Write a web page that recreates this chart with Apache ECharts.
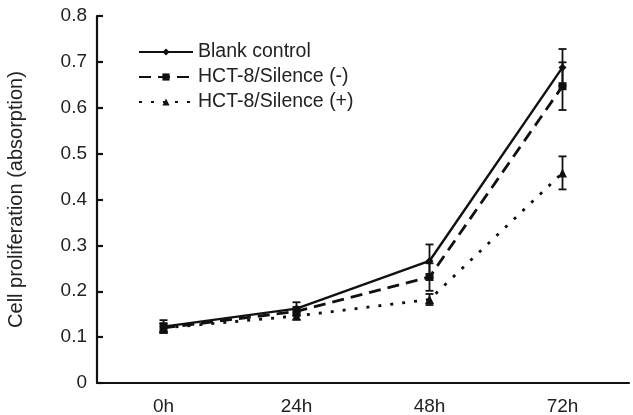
<!DOCTYPE html>
<html><head><meta charset="utf-8">
<script src="https://cdn.jsdelivr.net/npm/echarts@6/dist/echarts.min.js"></script>
<style>html,body{margin:0;padding:0;background:#fff}#c{width:633px;height:415px}</style>
</head><body><div id="c"></div>
<script>
const categories = ['0h', '24h', '48h', '72h'];
const seriesNames = ['Blank control', 'HCT-8/Silence (-)', 'HCT-8/Silence (+)'];
const blankControl = [0.123, 0.162, 0.266, 0.688];
const blankErr = [0.014, 0.014, 0.036, 0.04];
const silenceNeg = [0.12, 0.156, 0.231, 0.647];
const silenceNegErr = [0.01, 0.01, 0.03, 0.052];
const silencePos = [0.12, 0.146, 0.182, 0.458];
const silencePosErr = [0.01, 0.008, 0.012, 0.036];
const yTicks = [0, 0.1, 0.2, 0.3, 0.4, 0.5, 0.6, 0.7, 0.8];

const FONT = 'Liberation Sans, Arial, sans-serif';

function errData(vals, errs) {
  return vals.map((v, i) => [i, v - errs[i], v + errs[i]]);
}
function errSeries(vals, errs) {
  return {
    type: 'custom',
    silent: true,
    z: 5,
    data: errData(vals, errs),
    renderItem: function (params, api) {
      const x = api.value(0);
      const lo = api.coord([x, api.value(1)]);
      const hi = api.coord([x, api.value(2)]);
      const w = 4;
      const st = { stroke: '#111', lineWidth: 1.8 };
      return {
        type: 'group',
        children: [
          { type: 'line', shape: { x1: lo[0], y1: lo[1], x2: hi[0], y2: hi[1] }, style: st },
          { type: 'line', shape: { x1: lo[0] - w, y1: lo[1], x2: lo[0] + w, y2: lo[1] }, style: st },
          { type: 'line', shape: { x1: hi[0] - w, y1: hi[1], x2: hi[0] + w, y2: hi[1] }, style: st }
        ]
      };
    }
  };
}

const chart = echarts.init(document.getElementById('c'), null, { renderer: 'canvas' });
chart.setOption({
  animation: false,
  backgroundColor: '#fff',
  grid: { left: 97, right: 4, top: 16, bottom: 32, containLabel: false, outerBoundsMode: 'none' },
  legend: {
    orient: 'vertical',
    left: 138,
    top: 42,
    padding: 0,
    itemWidth: 54,
    itemHeight: 9,
    itemGap: 5,
    data: seriesNames,
    textStyle: { fontFamily: FONT, fontSize: 19.5, color: '#222' }
  },
  xAxis: {
    type: 'category',
    data: categories,
    boundaryGap: true,
    axisLine: { lineStyle: { color: '#111', width: 2.2 } },
    axisTick: { inside: true, length: 5, lineStyle: { color: '#111', width: 2.2 } },
    axisLabel: { fontFamily: FONT, fontSize: 19, color: '#222', margin: 14 }
  },
  yAxis: {
    type: 'value',
    min: 0,
    max: 0.8,
    interval: 0.1,
    name: 'Cell proliferation (absorption)',
    nameLocation: 'middle',
    nameGap: 71,
    nameTextStyle: { fontFamily: FONT, fontSize: 20, color: '#222' },
    splitLine: { show: false },
    axisLine: { show: true, lineStyle: { color: '#111', width: 2.2 } },
    axisTick: { show: true, inside: true, length: 6, lineStyle: { color: '#111', width: 2.2 } },
    axisLabel: {
      fontFamily: FONT, fontSize: 19, color: '#222', margin: 10,
      formatter: function (v) { const t = yTicks.find(k => Math.abs(k - v) < 1e-9); return t === 0 ? '0' : String(t); }
    }
  },
  series: [
    {
      name: seriesNames[0], type: 'line', data: blankControl,
      symbol: 'diamond', symbolSize: 8,
      itemStyle: { color: '#111' },
      lineStyle: { color: '#111', width: 2.4, type: 'solid' }, z: 4
    },
    {
      name: seriesNames[1], type: 'line', data: silenceNeg,
      symbol: 'rect', symbolSize: 8,
      itemStyle: { color: '#111' },
      lineStyle: { color: '#111', width: 2.8, type: [12, 7] }, z: 3
    },
    {
      name: seriesNames[2], type: 'line', data: silencePos,
      symbol: 'triangle', symbolSize: 9,
      itemStyle: { color: '#111' },
      lineStyle: { color: '#111', width: 2.8, type: [3, 9] }, z: 3
    },
    errSeries(blankControl, blankErr),
    errSeries(silenceNeg, silenceNegErr),
    errSeries(silencePos, silencePosErr)
  ]
});
</script>
</body></html>
